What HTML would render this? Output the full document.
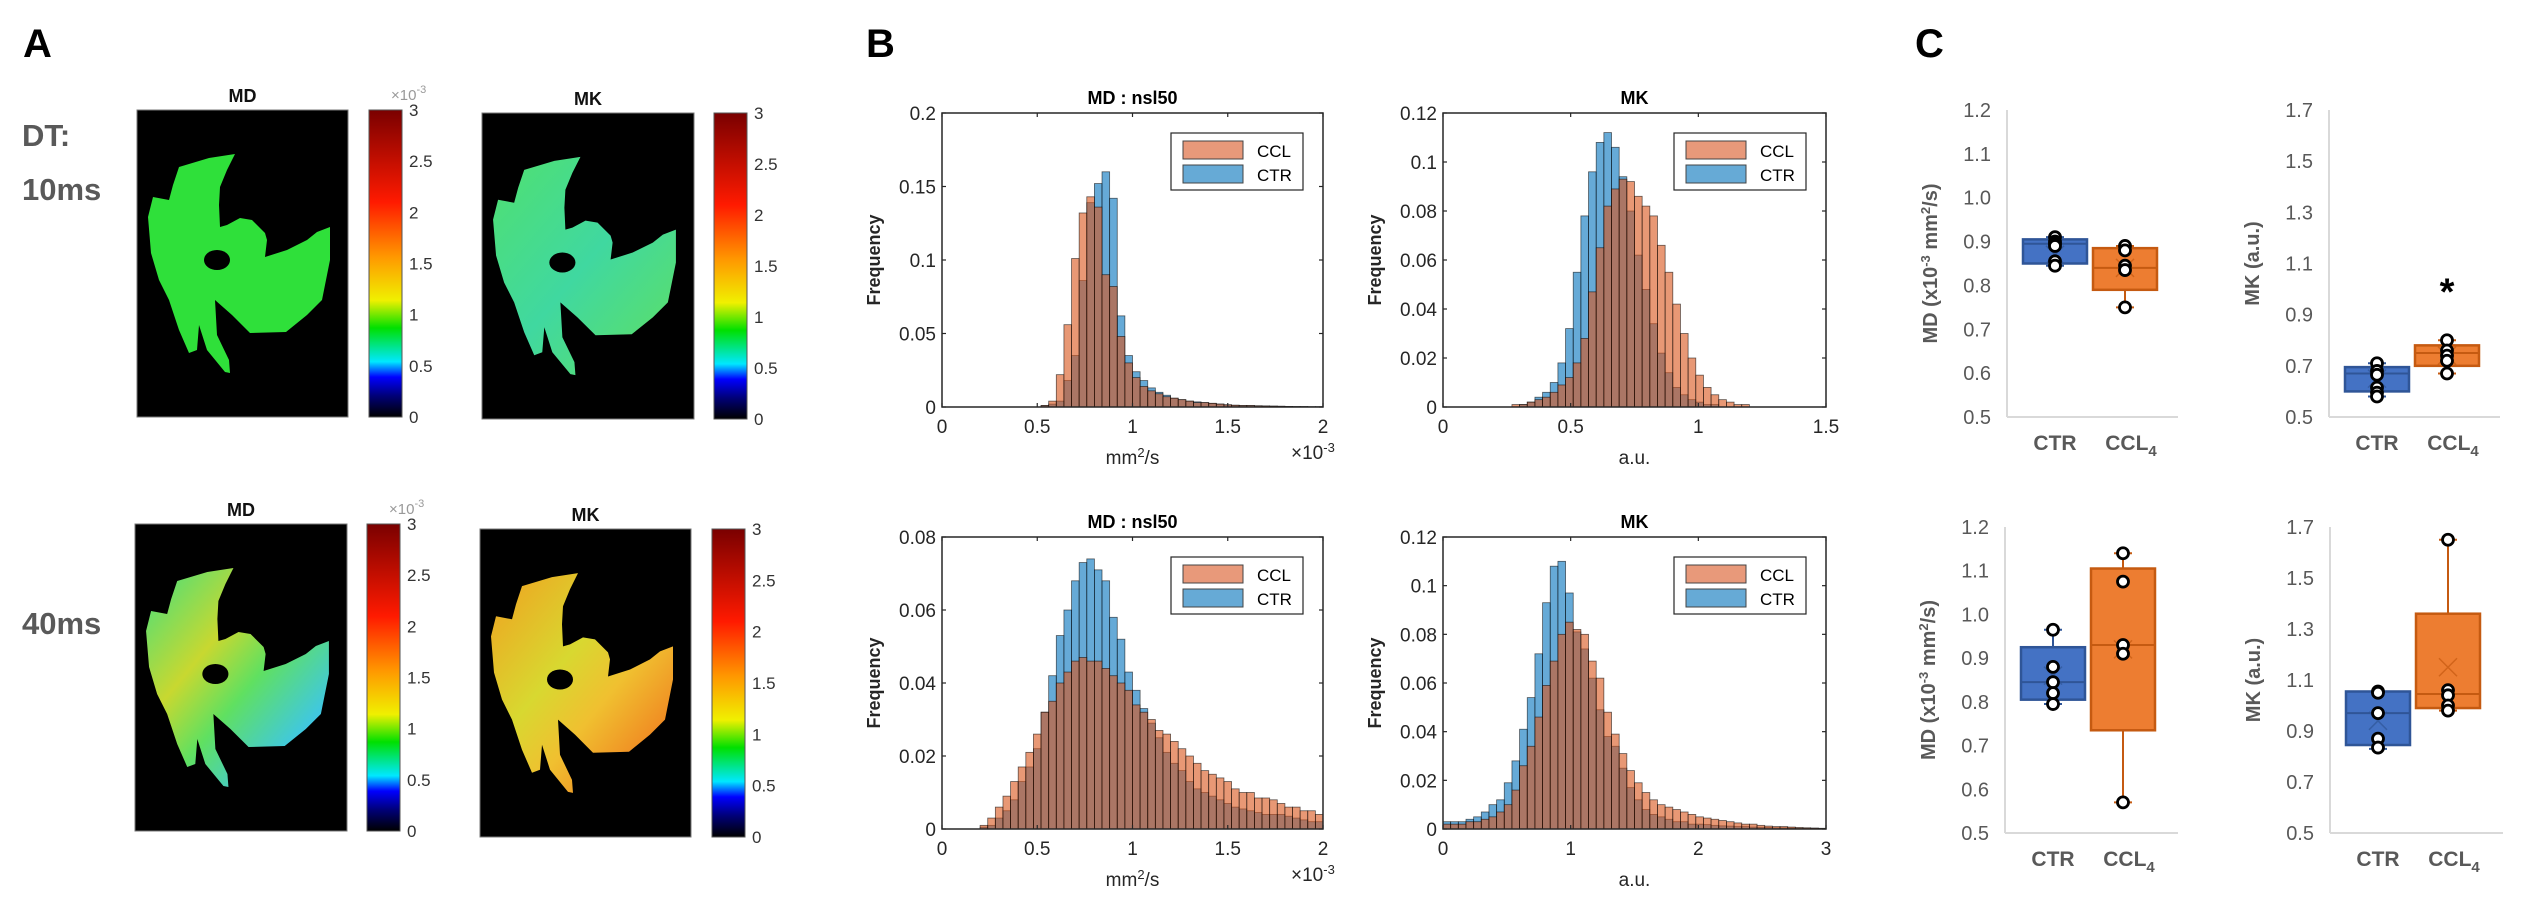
<!DOCTYPE html>
<html><head><meta charset="utf-8">
<style>
html,body{margin:0;padding:0;background:#fff;}
svg{display:block;font-family:"Liberation Sans",Arial,sans-serif;}
</style></head>
<body>
<svg id="fig" width="2526" height="917" viewBox="0 0 2526 917" xmlns="http://www.w3.org/2000/svg">
<defs>
<linearGradient id="jet" x1="0" y1="1" x2="0" y2="0">
<stop offset="0" stop-color="#000000"/><stop offset="0.07" stop-color="#00007a"/>
<stop offset="0.13" stop-color="#0000ff"/><stop offset="0.18" stop-color="#00e8ff"/>
<stop offset="0.29" stop-color="#00e000"/><stop offset="0.38" stop-color="#f0f000"/>
<stop offset="0.52" stop-color="#ff9900"/><stop offset="0.70" stop-color="#ff1a00"/>
<stop offset="1" stop-color="#7a0000"/>
</linearGradient>
<linearGradient id="g40md" x1="0" y1="0" x2="1" y2="1">
<stop offset="0" stop-color="#40e080"/><stop offset="0.35" stop-color="#c8d830"/>
<stop offset="0.55" stop-color="#60e060"/><stop offset="0.8" stop-color="#40c8e0"/><stop offset="1" stop-color="#30a0f0"/>
</linearGradient>
<linearGradient id="g40mk" x1="0" y1="0" x2="1" y2="1">
<stop offset="0" stop-color="#f0a020"/><stop offset="0.4" stop-color="#d8d830"/>
<stop offset="0.6" stop-color="#f0c030"/><stop offset="1" stop-color="#f06018"/>
</linearGradient>
<linearGradient id="g10mk" x1="0" y1="0" x2="1" y2="1">
<stop offset="0" stop-color="#50e070"/><stop offset="0.5" stop-color="#40d8a0"/><stop offset="1" stop-color="#60e060"/>
</linearGradient>
</defs>
</svg>
<script>
// ===== Histogram data (bin values, fraction of voxels) =====
const mdBinWidth = 0.04;   // x10^-3 mm2/s
const mdTopCTR = [0,0,0,0,0,0,0,0,0,0,0,0,0,.001,.002,.004,.018,.035,.086,.139,.152,.160,.142,.062,.035,.024,.018,.013,.010,.008,.006,.005,.004,.0035,.003,.0025,.002,.0015,.0012,.001,.001,.0008,.0007,.0006,.0005,.0004,.0003,.0003,.0002,.0002];
const mdTopCCL = [0,0,0,0,0,0,0,0,0,0,0,0,0,.001,.004,.022,.056,.101,.132,.143,.136,.090,.082,.048,.030,.020,.014,.011,.009,.007,.006,.005,.004,.003,.003,.0025,.002,.0015,.0012,.001,.001,.0008,.0007,.0006,.0005,.0004,.0003,.0003,.0002,.0002];
const mdBotCTR = [0,0,0,0,0,.0005,.001,.003,.005,.008,.013,.017,.022,.032,.042,.053,.060,.068,.073,.074,.071,.068,.058,.052,.043,.038,.033,.029,.025,.021,.018,.016,.013,.011,.010,.009,.008,.007,.006,.0055,.005,.0045,.004,.004,.004,.0035,.003,.0025,.002,.002];
const mdBotCCL = [0,0,0,0,0,.001,.003,.006,.009,.013,.017,.021,.026,.032,.035,.040,.043,.046,.047,.046,.046,.044,.042,.040,.038,.034,.032,.030,.027,.026,.024,.022,.020,.018,.016,.015,.014,.013,.011,.010,.010,.0085,.0085,.008,.007,.006,.006,.005,.005,.004];
const mkTopBinWidth = 0.03;
const mkTopCTR = [0,0,0,0,0,0,0,0,0,0,.001,.002,.004,.006,.010,.018,.032,.055,.078,.096,.108,.112,.106,.094,.080,.062,.048,.034,.022,.014,.008,.005,.003,.002,.001,.001,0,0,0,0,0,0,0,0,0,0,0,0,0,0];
const mkTopCCL = [0,0,0,0,0,0,0,0,0,.001,.001,.002,.003,.004,.006,.009,.012,.018,.028,.047,.065,.082,.089,.093,.092,.086,.082,.078,.066,.055,.042,.030,.020,.013,.008,.005,.003,.002,.001,.001,0,0,0,0,0,0,0,0,0,0];
const mkBotBinWidth = 0.06;
const mkBotCTR = [.003,.003,.003,.004,.005,.007,.010,.012,.019,.028,.041,.054,.072,.093,.108,.110,.097,.081,.074,.062,.049,.038,.034,.025,.017,.012,.008,.006,.005,.004,.003,.003,.002,.002,.0018,.0015,.0013,.0012,.001,.001,.0008,.0007,.0006,.0005,.0005,.0004,.0004,.0003,.0003,.0002];
const mkBotCCL = [.002,.002,.002,.003,.003,.004,.005,.007,.010,.016,.026,.034,.046,.059,.069,.080,.085,.082,.080,.069,.062,.048,.039,.031,.024,.019,.015,.012,.010,.009,.008,.007,.006,.005,.0045,.004,.0035,.003,.0025,.002,.002,.0015,.0012,.001,.001,.0008,.0006,.0005,.0004,.0003];
const mdXTicks = [0,0.5,1,1.5,2];
const mdXTickLabels = ['0','0.5','1','1.5','2'];
const mdTopYTicks = [0,0.05,0.1,0.15,0.2];
const mdTopYTickLabels = ['0','0.05','0.1','0.15','0.2'];
const mdBotYTicks = [0,0.02,0.04,0.06,0.08];
const mdBotYTickLabels = ['0','0.02','0.04','0.06','0.08'];
const mkYTicks = [0,0.02,0.04,0.06,0.08,0.1,0.12];
const mkYTickLabels = ['0','0.02','0.04','0.06','0.08','0.1','0.12'];
const mkTopXTicks = [0,0.5,1,1.5];
const mkTopXTickLabels = ['0','0.5','1','1.5'];
const mkBotXTicks = [0,1,2,3];
const mkBotXTickLabels = ['0','1','2','3'];

// ===== Boxplot data =====
const groups = ['CTR','CCL4'];
const mdTopBox = {q1:[0.85,0.79], med:[0.895,0.84], q3:[0.905,0.885], lo:[0.845,0.75], hi:[0.91,0.89], mean:[0.87,0.84]};
const mdTopPts = [[0.91,0.90,0.895,0.89,0.855,0.845],[0.89,0.88,0.845,0.835,0.75]];
const mkTopBox = {q1:[0.60,0.70], med:[0.67,0.75], q3:[0.695,0.78], lo:[0.58,0.67], hi:[0.71,0.80], mean:[0.65,0.74]};
const mkTopPts = [[0.71,0.68,0.665,0.615,0.595,0.58],[0.80,0.76,0.74,0.72,0.67]];
const mdBotBox = {q1:[0.805,0.735], med:[0.845,0.93], q3:[0.925,1.105], lo:[0.795,0.57], hi:[0.965,1.14], mean:[0.86,0.92]};
const mdBotPts = [[0.965,0.88,0.845,0.82,0.795],[1.14,1.075,0.93,0.91,0.57]];
const mkBotBox = {q1:[0.845,0.99], med:[0.97,1.045], q3:[1.055,1.36], lo:[0.83,0.98], hi:[1.055,1.65], mean:[0.94,1.15]};
const mkBotPts = [[1.055,1.05,0.97,0.87,0.835],[1.65,1.06,1.04,1.0,0.98]];
const mdBoxTicks = [0.5,0.6,0.7,0.8,0.9,1.0,1.1,1.2];
const mdBoxTickLabels = ['0.5','0.6','0.7','0.8','0.9','1.0','1.1','1.2'];
const mkBoxTicks = [0.5,0.7,0.9,1.1,1.3,1.5,1.7];
const mkBoxTickLabels = ['0.5','0.7','0.9','1.1','1.3','1.5','1.7'];

const NS = 'http://www.w3.org/2000/svg';
const svg = document.getElementById('fig');
function mk(tag, attrs, parent, txt){
  const e = document.createElementNS(NS, tag);
  for (const k in attrs) e.setAttribute(k, attrs[k]);
  if (txt !== undefined) e.textContent = txt;
  (parent || svg).appendChild(e);
  return e;
}
function lin(d0,d1,p0,p1){ return v => p0 + (v-d0)/(d1-d0)*(p1-p0); }

// ===== Panel letters =====
let t;
t = mk('text',{x:23,y:57,'font-size':40,'font-weight':'bold',fill:'#000'},svg,'A');


t = mk('text',{x:866,y:57,'font-size':40,'font-weight':'bold',fill:'#000'},svg,'B');


t = mk('text',{x:1915,y:57,'font-size':40,'font-weight':'bold',fill:'#000'},svg,'C');


t = mk('text',{x:22,y:146,'font-size':31,'font-weight':'bold',fill:'#595959'},svg,'DT:');


t = mk('text',{x:22,y:200,'font-size':31,'font-weight':'bold',fill:'#595959'},svg,'10ms');


t = mk('text',{x:22,y:634,'font-size':31,'font-weight':'bold',fill:'#595959'},svg,'40ms');



// ===== Panel A: maps =====
const blob = "M98,44 L72,48 L42,57 L36,75 L32,90 L16,87 L11,107 L14,143 L22,170 L32,190 L42,220 L52,243 L60,240 L62,215 L70,240 L88,262 L93,263 L92,250 L80,225 L78,190 L95,205 L113,223 L149,222 L170,205 L185,190 L193,150 L193,117 L180,122 L170,130 L150,140 L128,147 L130,130 L128,123 L115,110 L103,108 L90,115 L83,117 L82,95 L83,77 L90,60 Z";
function mapPanel(x,y,w,h,cbx,fill,title,showExp,name){
  const g = mk('g',{});
  
  
  const tt = mk('text',{x:x+w/2,y:y-8,'text-anchor':'middle','font-size':18,'font-weight':'bold',fill:'#111'},g,title);
  
  
  const bg = mk('rect',{x:x,y:y,width:w,height:h,fill:'#000',stroke:'#777','stroke-width':1},g);
  
  
  const sh = mk('g',{transform:`translate(${x},${y}) scale(${w/211},${h/307})`},g);
  const p = mk('path',{d:blob,fill:fill},sh);
  
  
  const hole = mk('ellipse',{cx:80,cy:150,rx:13,ry:10,fill:'#000'},sh);
  
  
  const cb = mk('rect',{x:cbx,y:y,width:33,height:h,fill:'url(#jet)',stroke:'#555','stroke-width':1},g);
  
  
  const cs = lin(0,3,y+h,y);
  [0,0.5,1,1.5,2,2.5,3].forEach(v=>{
    const lab = mk('text',{x:cbx+40,y:cs(v)+6,'font-size':17,fill:'#333'},g,String(v));
    
    
  });
  if (showExp){
    const ex = mk('text',{x:cbx+22,y:y-10,'font-size':15,fill:'#999'},g,'×10');
    
    
    mk('tspan',{dy:-7,'font-size':11},ex,'-3');
  }
}
mapPanel(137,110,211,307,369,'#2fe03a','MD',true,'map-md-10ms');
mapPanel(482,113,212,306,714,'url(#g10mk)','MK',false,'map-mk-10ms');
mapPanel(135,524,212,307,367,'url(#g40md)','MD',true,'map-md-40ms');
mapPanel(480,529,211,308,712,'url(#g40mk)','MK',false,'map-mk-40ms');

// ===== Panel B: histograms =====
function hist(o){
  const g = mk('g',{});
  
  
  const xs = lin(o.xmin,o.xmax,o.x0,o.x1), ys = lin(0,o.ymax,o.y1,o.y0);
  const drawSeries = (vals,color,nm)=>{
    vals.forEach((v,i)=>{
      if (v<=0) return;
      const a = xs(i*o.bw), b = xs((i+1)*o.bw);
      const r = mk('rect',{x:a,y:ys(v),width:b-a,height:o.y1-ys(v),fill:color,'fill-opacity':0.6,stroke:'#000','stroke-opacity':0.6,'stroke-width':0.8},g);
      
      
    });
  };
  drawSeries(o.ctr,'#0072bd','bar-ctr');
  drawSeries(o.ccl,'#d95319','bar-ccl');
  const box = mk('rect',{x:o.x0,y:o.y0,width:o.x1-o.x0,height:o.y1-o.y0,fill:'none',stroke:'#262626','stroke-width':1.5},g);
  
  
  o.xt.forEach((v,i)=>{
    const X = xs(v);
    mk('line',{x1:X,x2:X,y1:o.y1,y2:o.y1-4,stroke:'#262626','stroke-width':1.2},g);
    mk('line',{x1:X,x2:X,y1:o.y0,y2:o.y0+4,stroke:'#262626','stroke-width':1.2},g);
    const l = mk('text',{x:X,y:o.y1+26,'text-anchor':'middle','font-size':19,fill:'#262626'},g,o.xtl[i]);
    
    
  });
  o.yt.forEach((v,i)=>{
    const Y = ys(v);
    mk('line',{x1:o.x0,x2:o.x0+4,y1:Y,y2:Y,stroke:'#262626','stroke-width':1.2},g);
    mk('line',{x1:o.x1,x2:o.x1-4,y1:Y,y2:Y,stroke:'#262626','stroke-width':1.2},g);
    const l = mk('text',{x:o.x0-6,y:Y+7,'text-anchor':'end','font-size':19,fill:'#262626'},g,o.ytl[i]);
    
    
  });
  const ti = mk('text',{x:(o.x0+o.x1)/2,y:o.y0-9,'text-anchor':'middle','font-size':18,'font-weight':'bold',fill:'#000'},g,o.title);
  
  
  const yl = mk('text',{x:0,y:0,transform:`translate(${o.x0-62},${(o.y0+o.y1)/2}) rotate(-90)`,'text-anchor':'middle','font-size':18,'font-weight':'bold',fill:'#262626'},g,'Frequency');
  
  
  const xl = mk('text',{x:(o.x0+o.x1)/2,y:o.y1+57,'text-anchor':'middle','font-size':19,fill:'#262626'},g,o.unit==='md'?'mm':'a.u.');
  
  
  if (o.unit==='md'){
    mk('tspan',{dy:-7,'font-size':13},xl,'2');
    mk('tspan',{dy:7},xl,'/s');
    const ex = mk('text',{x:o.x1-32,y:o.y1+52,'font-size':19,fill:'#262626'},g,'×10');
    
    
    mk('tspan',{dy:-7,'font-size':13},ex,'-3');
  }
  const lx = o.x1-152, ly = o.y0+20;
  const lg = mk('g',{},g);
  
  
  mk('rect',{x:lx,y:ly,width:132,height:57,fill:'#fff',stroke:'#262626','stroke-width':1.2},lg);
  const s1 = mk('rect',{x:lx+12,y:ly+8,width:60,height:18,fill:'#e8997a',stroke:'#444'},lg);
  
  
  const s2 = mk('rect',{x:lx+12,y:ly+32,width:60,height:18,fill:'#66aad6',stroke:'#444'},lg);
  
  
  const t1 = mk('text',{x:lx+86,y:ly+24,'font-size':17,fill:'#000'},lg,'CCL');
  
  
  const t2 = mk('text',{x:lx+86,y:ly+48,'font-size':17,fill:'#000'},lg,'CTR');
  
  
}
hist({name:'hist-md-10ms',x0:942,x1:1323,y0:113,y1:407,xmin:0,xmax:2,ymax:0.2,bw:mdBinWidth,ctr:mdTopCTR,ccl:mdTopCCL,xt:mdXTicks,xtl:mdXTickLabels,yt:mdTopYTicks,ytl:mdTopYTickLabels,title:'MD : nsl50',unit:'md'});
hist({name:'hist-mk-10ms',x0:1443,x1:1826,y0:113,y1:407,xmin:0,xmax:1.5,ymax:0.12,bw:mkTopBinWidth,ctr:mkTopCTR,ccl:mkTopCCL,xt:mkTopXTicks,xtl:mkTopXTickLabels,yt:mkYTicks,ytl:mkYTickLabels,title:'MK',unit:'mk'});
hist({name:'hist-md-40ms',x0:942,x1:1323,y0:537,y1:829,xmin:0,xmax:2,ymax:0.08,bw:mdBinWidth,ctr:mdBotCTR,ccl:mdBotCCL,xt:mdXTicks,xtl:mdXTickLabels,yt:mdBotYTicks,ytl:mdBotYTickLabels,title:'MD : nsl50',unit:'md'});
hist({name:'hist-mk-40ms',x0:1443,x1:1826,y0:537,y1:829,xmin:0,xmax:3,ymax:0.12,bw:mkBotBinWidth,ctr:mkBotCTR,ccl:mkBotCCL,xt:mkBotXTicks,xtl:mkBotXTickLabels,yt:mkYTicks,ytl:mkYTickLabels,title:'MK',unit:'mk'});

// ===== Panel C: boxplots =====
function boxplot(o){
  const g = mk('g',{});
  
  
  const ys = lin(o.ticks[0],o.ticks[o.ticks.length-1],o.y1,o.y0);
  const ax1 = mk('line',{x1:o.x0,x2:o.x0,y1:o.y0,y2:o.y1,stroke:'#d9d9d9','stroke-width':2},g);
  
  
  const ax2 = mk('line',{x1:o.x0,x2:o.x1,y1:o.y1,y2:o.y1,stroke:'#d9d9d9','stroke-width':2},g);
  
  
  o.ticks.forEach((v,i)=>{
    const l = mk('text',{x:o.x0-16,y:ys(v)+7,'text-anchor':'end','font-size':20,fill:'#595959'},g,o.tickLabels[i]);
    
    
  });
  const yl = mk('text',{x:0,y:0,transform:`translate(${o.x0-70},${(o.y0+o.y1)/2}) rotate(-90)`,'text-anchor':'middle','font-size':20,'font-weight':'bold',fill:'#595959'},g,o.ylabel);
  
  
  if (o.ylabel.startsWith('MD')){ yl.textContent=''; yl.appendChild(document.createTextNode('MD  (x10')); mk('tspan',{dy:-7,'font-size':13},yl,'-3'); mk('tspan',{dy:7},yl,' mm'); mk('tspan',{dy:-7,'font-size':13},yl,'2'); mk('tspan',{dy:7},yl,'/s)'); }
  const cols = ['#4472c4','#ed7d31'], dark = ['#2f5597','#c55a11'];
  const cx = [o.x0+48, o.x0+118];
  const bw = 64;
  groups.forEach((gname,i)=>{
    const c = cx[i];
    const wh = mk('line',{x1:c,x2:c,y1:ys(o.box.lo[i]),y2:ys(o.box.hi[i]),stroke:dark[i],'stroke-width':2},g);
    
    
    [o.box.lo[i],o.box.hi[i]].forEach(v=>{ mk('line',{x1:c-9,x2:c+9,y1:ys(v),y2:ys(v),stroke:dark[i],'stroke-width':2},g); });
    const r = mk('rect',{x:c-bw/2,y:ys(o.box.q3[i]),width:bw,height:ys(o.box.q1[i])-ys(o.box.q3[i]),fill:cols[i],stroke:dark[i],'stroke-width':2.5},g);
    
    
    const md = mk('line',{x1:c-bw/2,x2:c+bw/2,y1:ys(o.box.med[i]),y2:ys(o.box.med[i]),stroke:dark[i],'stroke-width':2},g);
    
    
    const mm = ys(o.box.mean[i]);
    const mn = mk('path',{d:`M${c-9},${mm-9} L${c+9},${mm+9} M${c-9},${mm+9} L${c+9},${mm-9}`,stroke:dark[i],'stroke-width':1.5,fill:'none','stroke-opacity':0.7},g);
    
    
    o.pts[i].forEach(v=>{
      const p = mk('circle',{cx:c,cy:ys(v),r:5.5,fill:'#fff',stroke:'#000','stroke-width':2.8},g);
      
      
    });
    const lab = mk('text',{x:c+(i?6:0),y:o.y1+33,'text-anchor':'middle','font-size':21,'font-weight':'bold',fill:'#595959'},g,gname==='CCL4'?'CCL':'CTR');
    
    
    if (gname==='CCL4') mk('tspan',{dy:6,'font-size':15},lab,'4');
  });
  if (o.star){
    const s = mk('text',{x:cx[1],y:ys(o.star)+18,'text-anchor':'middle','font-size':38,'font-weight':'bold',fill:'#000'},g,'*');
    
    
  }
}
boxplot({name:'box-md-10ms',x0:2007,x1:2178,y0:110,y1:417,ticks:mdBoxTicks,tickLabels:mdBoxTickLabels,box:mdTopBox,pts:mdTopPts,ylabel:'MD'});
boxplot({name:'box-mk-10ms',x0:2329,x1:2500,y0:110,y1:417,ticks:mkBoxTicks,tickLabels:mkBoxTickLabels,box:mkTopBox,pts:mkTopPts,ylabel:'MK (a.u.)',star:1.01});
boxplot({name:'box-md-40ms',x0:2005,x1:2178,y0:527,y1:833,ticks:mdBoxTicks,tickLabels:mdBoxTickLabels,box:mdBotBox,pts:mdBotPts,ylabel:'MD'});
boxplot({name:'box-mk-40ms',x0:2330,x1:2503,y0:527,y1:833,ticks:mkBoxTicks,tickLabels:mkBoxTickLabels,box:mkBotBox,pts:mkBotPts,ylabel:'MK (a.u.)'});
</script>
</body></html>
